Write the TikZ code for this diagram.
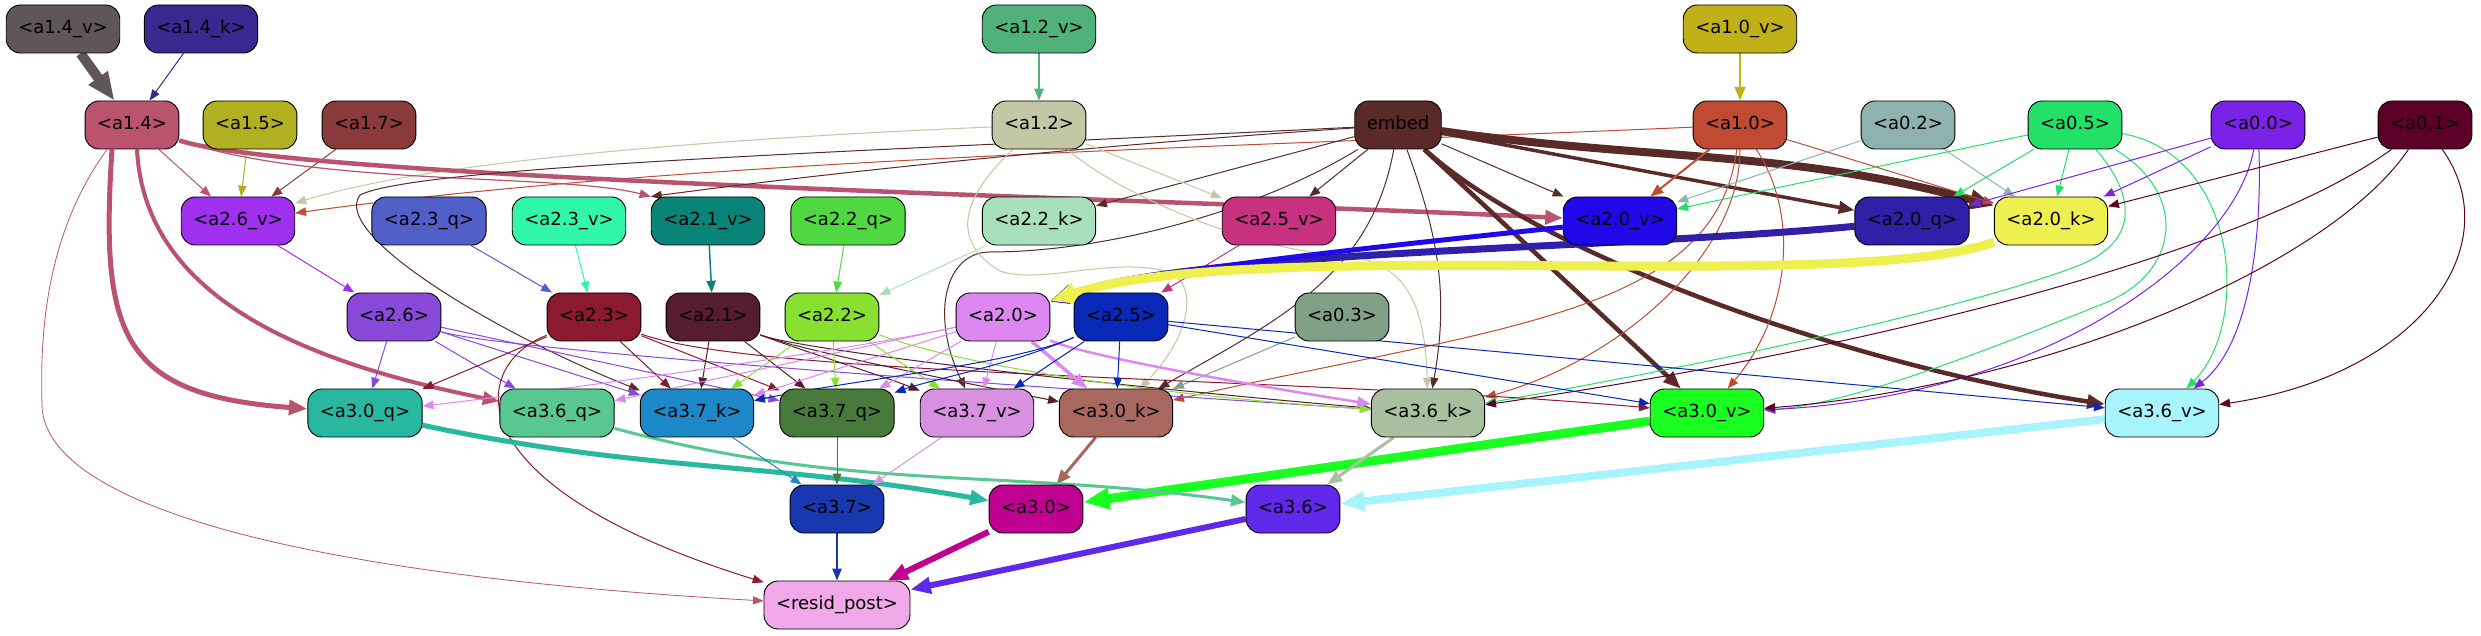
\documentclass[tikz,border=0pt]{standalone}
\usepackage{fontspec}
\setmainfont{DejaVu Sans}
\usetikzlibrary{arrows.meta,backgrounds}
\definecolor{c14v}{HTML}{5F5659}\definecolor{c14k}{HTML}{3A2891}\definecolor{c12v}{HTML}{50B27A}\definecolor{c10v}{HTML}{C1B118}
\definecolor{c14}{HTML}{B9536E}\definecolor{c15}{HTML}{B0B020}\definecolor{c17}{HTML}{8B3A3B}\definecolor{c12}{HTML}{C3C7A4}
\definecolor{cemb}{HTML}{5A2A29}\definecolor{c10}{HTML}{C04A32}\definecolor{c02}{HTML}{8EB2B0}\definecolor{c05}{HTML}{22E068}
\definecolor{c00}{HTML}{7A22E8}\definecolor{c01}{HTML}{5C0028}
\definecolor{c26v}{HTML}{A030F0}\definecolor{c23q}{HTML}{5060C8}\definecolor{c23v}{HTML}{30F8A8}\definecolor{c21v}{HTML}{0A8478}
\definecolor{c22q}{HTML}{50D840}\definecolor{c22k}{HTML}{A8E0BC}\definecolor{c25v}{HTML}{C83080}\definecolor{c20v}{HTML}{2008E8}
\definecolor{c20q}{HTML}{3020A8}\definecolor{c20k}{HTML}{EEF050}
\definecolor{c26}{HTML}{8848D8}\definecolor{c23}{HTML}{8B1A2E}\definecolor{c21}{HTML}{561C30}\definecolor{c22}{HTML}{88E030}
\definecolor{c20}{HTML}{DC88F0}\definecolor{c25}{HTML}{0828B8}\definecolor{c03}{HTML}{80A088}
\definecolor{c30q}{HTML}{28B8A0}\definecolor{c36q}{HTML}{58C890}\definecolor{c37k}{HTML}{1C88C8}\definecolor{c37q}{HTML}{487A3C}
\definecolor{c37v}{HTML}{D890E0}\definecolor{c30k}{HTML}{A86860}\definecolor{c36k}{HTML}{A8C0A0}\definecolor{c30v}{HTML}{18FF20}
\definecolor{c36v}{HTML}{A8F4FC}\definecolor{c37}{HTML}{1838B0}\definecolor{c30}{HTML}{C00090}\definecolor{c36}{HTML}{6028E8}
\definecolor{cres}{HTML}{F0A8E8}
\begin{document}
\begin{tikzpicture}[x=1pt,y=1pt,
  nd/.style={draw=black, line width=0.9pt, rounded corners=14pt, minimum height=48pt,
    inner xsep=12pt, inner ysep=0pt, text height=13.5pt, text depth=4pt,
    font=\fontsize{18pt}{20pt}\selectfont, text=black},
  ed/.style={line width=#1, -{Triangle[length=9pt 1.9,width=7pt 1.5]}}]
\useasboundingbox (0,0) rectangle (2481,635);
% row 1
\node[nd,fill=c14v] (a14v) at (63,606) {<a1.4\_v>};
\node[nd,fill=c14k] (a14k) at (201,606) {<a1.4\_k>};
\node[nd,fill=c12v] (a12v) at (1039,606) {<a1.2\_v>};
\node[nd,fill=c10v] (a10v) at (1740,606) {<a1.0\_v>};
% row 2
\node[nd,fill=c14] (a14) at (132,510) {<a1.4>};
\node[nd,fill=c15] (a15) at (250,510) {<a1.5>};
\node[nd,fill=c17] (a17) at (369,510) {<a1.7>};
\node[nd,fill=c12] (a12) at (1039,510) {<a1.2>};
\node[nd,fill=cemb] (embed) at (1398,510) {embed};
\node[nd,fill=c10] (a10) at (1740,510) {<a1.0>};
\node[nd,fill=c02] (a02) at (1908,510) {<a0.2>};
\node[nd,fill=c05] (a05) at (2075,510) {<a0.5>};
\node[nd,fill=c00] (a00) at (2258,510) {<a0.0>};
\node[nd,fill=c01] (a01) at (2425,510) {<a0.1>};
% row 3
\node[nd,fill=c26v] (a26v) at (238,414) {<a2.6\_v>};
\node[nd,fill=c23q] (a23q) at (429,414) {<a2.3\_q>};
\node[nd,fill=c23v] (a23v) at (569,414) {<a2.3\_v>};
\node[nd,fill=c21v] (a21v) at (708,414) {<a2.1\_v>};
\node[nd,fill=c22q] (a22q) at (848,414) {<a2.2\_q>};
\node[nd,fill=c22k] (a22k) at (1039,414) {<a2.2\_k>};
\node[nd,fill=c25v] (a25v) at (1279,414) {<a2.5\_v>};
\node[nd,fill=c20v] (a20v) at (1620,414) {<a2.0\_v>};
\node[nd,fill=c20q] (a20q) at (1912,414) {<a2.0\_q>};
\node[nd,fill=c20k] (a20k) at (2051,414) {<a2.0\_k>};
% row 4
\node[nd,fill=c26] (a26) at (394,318) {<a2.6>};
\node[nd,fill=c23] (a23) at (594,318) {<a2.3>};
\node[nd,fill=c21] (a21) at (713,318) {<a2.1>};
\node[nd,fill=c22] (a22) at (832,318) {<a2.2>};
\node[nd,fill=c20] (a20) at (1003,318) {<a2.0>};
\node[nd,fill=c25] (a25) at (1121,318) {<a2.5>};
\node[nd,fill=c03] (a03) at (1342,318) {<a0.3>};
% row 5
\node[nd,fill=c30q] (a30q) at (365,222) {<a3.0\_q>};
\node[nd,fill=c36q] (a36q) at (557,222) {<a3.6\_q>};
\node[nd,fill=c37k] (a37k) at (697,222) {<a3.7\_k>};
\node[nd,fill=c37q] (a37q) at (837,222) {<a3.7\_q>};
\node[nd,fill=c37v] (a37v) at (977,222) {<a3.7\_v>};
\node[nd,fill=c30k] (a30k) at (1116,222) {<a3.0\_k>};
\node[nd,fill=c36k] (a36k) at (1428,222) {<a3.6\_k>};
\node[nd,fill=c30v] (a30v) at (1707,222) {<a3.0\_v>};
\node[nd,fill=c36v] (a36v) at (2162,222) {<a3.6\_v>};
% row 6
\node[nd,fill=c37] (a37) at (837,126) {<a3.7>};
\node[nd,fill=c30] (a30) at (1036,126) {<a3.0>};
\node[nd,fill=c36] (a36) at (1293,126) {<a3.6>};
% row 7
\node[nd,fill=cres] (resid) at (837,30) {<resid\_post>};

\begin{scope}[on background layer]
\fill[white] (0,0) rectangle (2481,635);
% row 1 -> 2
\draw[ed=10,c14v] (a14v) -- (a14);
\draw[ed=1,c14k] (a14k) -- (a14);
\draw[ed=1.5,c12v] (a12v) -- (a12);
\draw[ed=2.5,c10v] (a10v) -- (a10);
% into a2.6_v
\draw[ed=1,c15] (a15) -- (a26v);
\draw[ed=1,c17] (a17) -- (a26v);
\draw[ed=1,c14] (a14) -- (a26v);
\draw[ed=1,c12] (a12) .. controls (800,500) and (450,480) .. (a26v);
\draw[ed=1,c10] (a10) .. controls (1300,490) and (700,478) .. (a26v);
% a1.4 long
\draw[ed=4.5,c14] (a14) .. controls (300,455) and (1200,435) .. (a20v);
\draw[ed=1.2,c14] (a14) .. controls (320,448) and (560,462) .. (a21v.north west);
\draw[ed=5,c14] ([xshift=-20pt]a14.south) .. controls (100,300) and (120,240) .. (a30q);
\draw[ed=4,c14] ([xshift=5pt]a14.south) .. controls (145,330) and (320,270) .. (a36q);
\draw[ed=0.8,c14] ([xshift=-25pt]a14.south) .. controls (45,400) and (40,300) .. (42,230) .. controls (44,130) and (300,60) .. (resid);
% embed
\draw[ed=1,cemb] (embed) .. controls (1100,490) and (850,465) .. (a21v.north west);
\draw[ed=1,cemb] (embed) -- (a22k);
\draw[ed=1,cemb] (embed) -- (a25v);
\draw[ed=1,cemb] (embed) -- (a20v);
\draw[ed=3.5,cemb] (embed) -- (a20q);
\draw[ed=8,cemb] (embed) to[out=-8,in=165] (a20k);
\draw[ed=1,cemb] (embed) .. controls (900,485) and (420,470) .. (360,440) .. controls (330,400) and (500,300) .. (a37k);
\draw[ed=1,cemb] (embed) .. controls (1250,420) and (1100,383) .. (990,383) .. controls (945,383) and (930,320) .. (a37v);
\draw[ed=1,cemb] (embed) to[out=-100,in=30] (a30k);
\draw[ed=1,cemb] (embed) to[out=-70,in=80] (a36k);
\draw[ed=4.5,cemb] (embed) -- (a30v);
\draw[ed=4.5,cemb] (embed) .. controls (1540,380) and (1850,270) .. (a36v);
% a1.2
\draw[ed=1,c12] (a12) -- (a25v);
\draw[ed=1,c12] (a12) .. controls (975,450) and (940,400) .. (1000,364) .. controls (1040,350) and (1110,378) .. (1165,364) .. controls (1200,355) and (1192,300) .. (a30k);
\draw[ed=1,c12] (a12) .. controls (1120,440) and (1250,385) .. (1340,380) .. controls (1400,375) and (1425,340) .. (a36k);
% a1.0
\draw[ed=2,c10] (a10) -- (a20v);
\draw[ed=1,c10] (a10) -- (a20k);
\draw[ed=1,c10] (a10) .. controls (1715,320) and (1500,309) .. (a30k);
\draw[ed=1,c10] (a10) .. controls (1740,380) and (1620,275) .. (a36k);
\draw[ed=1,c10] (a10) .. controls (1800,420) and (1790,320) .. (a30v);
% a0.x
\draw[ed=1,c02] (a02) -- (a20v);
\draw[ed=1,c02] (a02) -- (a20k);
\draw[ed=1,c05] (a05) -- (a20v);
\draw[ed=1,c05] (a05) -- (a20q);
\draw[ed=1,c05] (a05) -- (a20k);
\draw[ed=1,c05] (a05) .. controls (2135,440) and (2140,395) .. (2080,370) .. controls (1950,320) and (1650,260) .. (a36k);
\draw[ed=1,c05] (a05) .. controls (2190,440) and (2180,360) .. (2100,330) .. controls (2000,290) and (1850,230) .. (a30v);
\draw[ed=1,c05] (a05) .. controls (2240,480) and (2250,310) .. (a36v);
\draw[ed=1,c00] (a00) -- (a20q);
\draw[ed=1,c00] (a00) -- (a20k);
\draw[ed=1,c00] (a00) .. controls (2235,380) and (2050,240) .. (a30v);
\draw[ed=1,c00] (a00) .. controls (2262,400) and (2250,290) .. (a36v);
\draw[ed=1,c01] (a01) -- (a20k);
\draw[ed=1,c01] (a01) .. controls (2260,390) and (1900,290) .. (a36k);
\draw[ed=1,c01] (a01) .. controls (2330,370) and (2050,250) .. (a30v);
\draw[ed=1,c01] (a01) .. controls (2510,390) and (2420,260) .. (a36v);
\draw[ed=1,c03] (a03) -- (a30k);
% row 3 -> 4
\draw[ed=1,c26v] (a26v) -- (a26);
\draw[ed=1,c23q] (a23q) -- (a23);
\draw[ed=1,c23v] (a23v) -- (a23);
\draw[ed=1.5,c21v] (a21v) -- (a21);
\draw[ed=1,c22q] (a22q) -- (a22);
\draw[ed=1,c22k] (a22k) -- (a22);
\draw[ed=1,c25v] (a25v) -- (a25);
\draw[ed=7,c20q] (a20q) .. controls (1600,385) and (1200,385) .. (a20);
\draw[ed=5,c20v] (a20v) .. controls (1350,385) and (1150,365) .. (a20);
\draw[ed=9,c20k] (a20k) .. controls (1850,340) and (1250,400) .. (a20);
% a2.6
\draw[ed=1,c26] (a26) -- (a30q);
\draw[ed=1,c26] (a26) -- (a36q);
\draw[ed=1,c26] (a26) -- (a37k);
\draw[ed=1,c26] (a26) -- (a37q);
\draw[ed=1,c26] (a26) .. controls (500,285) and (1000,250) .. (a36k);
% a2.3
\draw[ed=1,c23] (a23) -- (a30q);
\draw[ed=1,c23] (a23) -- (a37k);
\draw[ed=1,c23] (a23) -- (a37q);
\draw[ed=1,c23] (a23) .. controls (760,258) and (1300,258) .. (a30v);
\draw[ed=1,c23] (a23) .. controls (470,270) and (450,150) .. (resid);
% a2.1
\draw[ed=1,c21] (a21) -- (a37k);
\draw[ed=1,c21] (a21) -- (a37q);
\draw[ed=1,c21] (a21) .. controls (800,285) and (880,260) .. (a37v);
\draw[ed=1,c21] (a21) .. controls (800,285) and (950,255) .. (a30k);
\draw[ed=1,c21] (a21) .. controls (800,285) and (1100,250) .. (a36k);
% a2.2
\draw[ed=1,c22] (a22) -- (a37k);
\draw[ed=1,c22] (a22) -- (a37q);
\draw[ed=1,c22] (a22) -- (a37v);
\draw[ed=1,c22] (a22) .. controls (960,270) and (1150,240) .. (a36k);
% a2.0
\draw[ed=1,c20] (a20) .. controls (850,285) and (600,250) .. (a30q);
\draw[ed=1,c20] (a20) -- (a36q);
\draw[ed=1,c20] (a20) -- (a37k);
\draw[ed=1,c20] (a20) -- (a37q);
\draw[ed=1,c20] (a20) -- (a37v);
\draw[ed=3.5,c20] (a20) -- (a30k);
\draw[ed=2.5,c20] (a20) .. controls (1080,280) and (1250,250) .. (a36k);
% a2.5
\draw[ed=1,c25] (a25) .. controls (1010,270) and (850,255) .. (a37k);
\draw[ed=1,c25] (a25) .. controls (1010,270) and (930,255) .. (a37q);
\draw[ed=1,c25] (a25) -- (a37v);
\draw[ed=1,c25] (a25) -- (a30k);
\draw[ed=1,c25] (a25) -- (a30v);
\draw[ed=1,c25] (a25) -- (a36v);
% row 5 -> 6
\draw[ed=5,c30q] (a30q) to[out=-12,in=170] (a30);
\draw[ed=3,c30k] (a30k) -- (a30);
\draw[ed=9,c30v] (a30v) -- (a30);
\draw[ed=3,c36q] (a36q) to[out=-15,in=172] (a36);
\draw[ed=3,c36k] (a36k) -- (a36);
\draw[ed=8,c36v] (a36v) -- (a36);
\draw[ed=1,c37k] (a37k) -- (a37);
\draw[ed=1,c37q] (a37q) -- (a37);
\draw[ed=1,c37v] (a37v) -- (a37);
% row 6 -> 7
\draw[ed=1.5,c37] (a37) -- (resid);
\draw[ed=6,c30] (a30) -- (resid);
\draw[ed=6,c36] (a36) -- (resid);
\end{scope}
\end{tikzpicture}
\end{document}
